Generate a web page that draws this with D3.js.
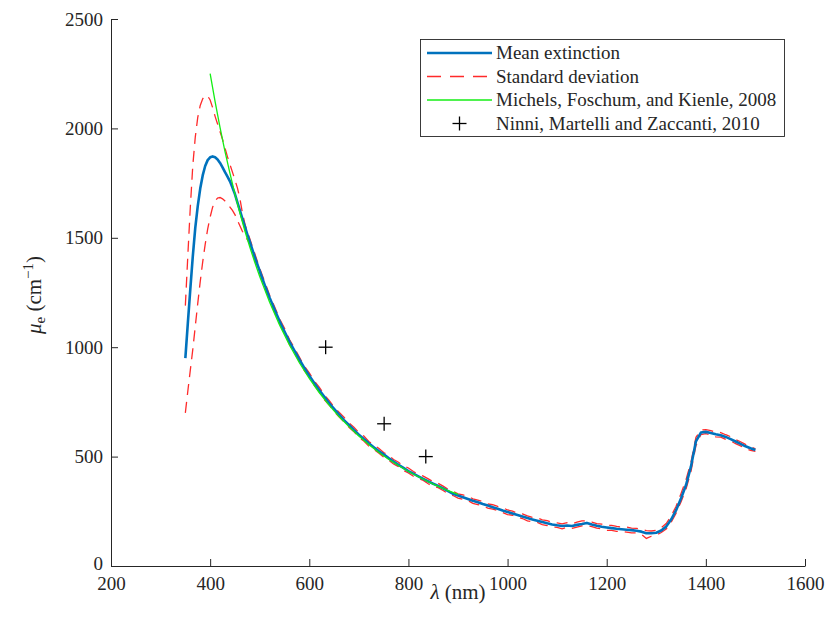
<!DOCTYPE html>
<html>
<head>
<meta charset="utf-8">
<script src="https://cdn.jsdelivr.net/npm/d3@7"></script>
<style>
  html, body { margin: 0; padding: 0; background: #ffffff; }
  svg { display: block; }
  text { font-family: "Liberation Serif", "Times New Roman", serif; fill: #262626; }
</style>
</head>
<body>
<svg id="chart" width="828" height="634"></svg>
<script>
// ---------------- DATA ----------------
const wavelengths = [
  350,355,360,365,370,375,380,385,390,395,
  400,405,410,415,420,425,430,435,440,445,
  450,455,460,465,470,475,
  480,490,500,510,520,530,540,550,560,570,
  580,590,600,610,620,630,640,650,660,670,
  680,690,700,710,720,730,740,750,760,770,
  780,790,800,810,820,830,840,850,860,870,
  880,890,900,910,920,930,940,950,960,970,
  980,990,1000,1010,1020,1030,1040,1050,1060,1070,
  1080,1090,1100,1110,1120,1130,1140,1150,1160,1170,
  1180,1190,1200,1210,1220,1230,1240,1250,1260,1270,
  1280,1290,1300,1310,1320,1330,1340,1350,1360,1370,
  1380,1390,1400,1410,1420,1430,1440,1450,1460,1470,
  1480,1490,1500
];
const meanExtinction = [
  950,1110,1265,1415,1545,1645,1725,1785,1828,1855,
  1868,1872,1868,1858,1842,1822,1800,1780,1758,1730,
  1700,1662,1625,1588,1552,1516,
  1482,1412,1348,1285,1226,1172,1120,1072,1026,984,
  944,905,870,836,804,774,745,718,692,667,
  645,622,600,580,561,543,525,510,493,477,
  462,448,434,422,410,398,387,376,366,355,
  342,330,322,314,306,298,291,283,276,269,
  262,254,247,240,233,226,219,213,207,201,
  195,190,186,183,185,183,188,192,197,190,
  184,179,176,173,170,168,166,164,161,157,
  150,150,152,162,180,212,255,310,370,455,
  570,610,613,608,602,598,590,580,569,558,
  547,538,530
];
const stdUpper = [
  1190,1420,1640,1830,1960,2050,2105,2135,2150,2148,
  2130,2095,2055,2020,1985,1950,1910,1870,1835,1800,
  1765,1728,1680,1615,1565,1527,
  1496,1428,1360,1300,1237,1185,1130,1086,1035,996,
  955,913,883,846,818,783,757,726,703,680,
  654,634,610,594,569,554,538,519,505,487,
  474,457,448,432,418,411,398,385,378,365,
  351,342,330,325,319,307,301,295,284,280,
  272,267,256,251,241,238,229,222,220,211,
  207,199,197,193,198,192,200,206,207,201,
  194,191,185,186,181,178,178,173,172,167,
  162,160,163,175,194,228,273,332,395,475,
  588,622,623,619,611,610,600,591,578,568,
  556,546,536
];
const stdLower = [
  700,800,895,990,1095,1200,1300,1390,1470,1540,
  1595,1640,1668,1682,1684,1678,1668,1655,1640,1625,
  1606,1580,1555,1530,1510,1492,
  1472,1399,1340,1271,1217,1160,1110,1064,1013,975,
  935,893,863,825,796,761,736,706,682,659,
  634,614,588,571,548,533,517,498,484,466,
  454,437,425,410,400,391,376,363,358,345,
  331,322,310,305,299,286,281,275,265,260,
  253,244,235,232,222,217,206,203,199,189,
  185,178,177,170,177,172,178,183,185,180,
  173,170,163,163,158,159,155,151,151,145,
  126,136,142,153,169,200,241,294,352,433,
  550,601,605,598,590,589,579,572,559,549,
  537,529,524
];
const michelsWavelengths = [400,410,420,430,440,450,460,470,480,490,500,520,540,560,580,600,620,640,660,680,700,720,740,760,780,800,820,840,860,880,900];
const michelsValues      = [2250,2122,2003,1894,1794,1700,1614,1532,1458,1388,1323,1205,1102,1010,929,857,793,735,683,637,594,555,520,488,459,432,408,385,364,344,327];
const ninniWavelengths = [633, 751, 835];
const ninniValues      = [1000, 650, 500];
const xTicks = [200,400,600,800,1000,1200,1400,1600];
const yTicks = [0,500,1000,1500,2000,2500];
const legendLabels = ["Mean extinction","Standard deviation","Michels, Foschum, and Kienle, 2008","Ninni, Martelli and Zaccanti, 2010"];

// ---------------- CHART ----------------
const svg = d3.select("#chart");
const x = d3.scaleLinear().domain([200,1600]).range([111,805]);
const y = d3.scaleLinear().domain([0,2500]).range([566,19]);
const axisColor = "#262626";

const xAxis = svg.append("g").attr("transform","translate(0,566)")
  .call(d3.axisBottom(x).tickValues(xTicks).tickSize(-7).tickSizeOuter(0).tickPadding(11).tickFormat(d3.format("d")));
const yAxis = svg.append("g").attr("transform","translate(111,0)")
  .call(d3.axisLeft(y).tickValues(yTicks).tickSize(-7).tickSizeOuter(0).tickPadding(8).tickFormat(d3.format("d")));
[xAxis, yAxis].forEach(g => {
  g.select(".domain").attr("stroke", axisColor).attr("stroke-width", 1);
  g.selectAll(".tick line").attr("stroke", axisColor).attr("stroke-width", 1);
  g.selectAll(".tick text").attr("font-size", 19).attr("font-family", "Liberation Serif, Times New Roman, serif").attr("fill", axisColor);
});
// the y tick label "0" sits slightly higher so it does not collide with "200"
yAxis.selectAll(".tick").filter(d => d === 0).select("text").attr("dy", "0.2em");

const line = d3.line().x(d => x(d[0])).y(d => y(d[1]));
const upperPts = wavelengths.map((w,i) => [w, stdUpper[i]]);
const lowerPts = wavelengths.map((w,i) => [w, stdLower[i]]);
const meanPts  = wavelengths.map((w,i) => [w, meanExtinction[i]]);
const michPts  = michelsWavelengths.map((w,i) => [w, michelsValues[i]]);

const red = "#ff2a2a", blue = "#0072BD", green = "#14ee14";
[upperPts, lowerPts].forEach(p => {
  svg.append("path").datum(p).attr("d", line).attr("fill","none")
    .attr("stroke", red).attr("stroke-width", 1.3).attr("stroke-dasharray","11,7");
});
svg.append("path").datum(meanPts).attr("d", line).attr("fill","none")
  .attr("stroke", blue).attr("stroke-width", 2.6).attr("stroke-linejoin","round");
svg.append("path").datum(michPts).attr("d", line).attr("fill","none")
  .attr("stroke", green).attr("stroke-width", 1.3);

const plusHalf = 7;
ninniWavelengths.forEach((w,i) => {
  const cx = x(w), cy = y(ninniValues[i]);
  svg.append("line").attr("x1",cx-plusHalf).attr("x2",cx+plusHalf).attr("y1",cy).attr("y2",cy).attr("stroke","#000").attr("stroke-width",1.3);
  svg.append("line").attr("x1",cx).attr("x2",cx).attr("y1",cy-plusHalf).attr("y2",cy+plusHalf).attr("stroke","#000").attr("stroke-width",1.3);
});

// Axis labels
const xl = svg.append("text").attr("x", 458).attr("y", 599).attr("text-anchor","middle").attr("font-size", 21);
xl.append("tspan").attr("font-style","italic").text("λ");
xl.append("tspan").text(" (nm)");

const yl = svg.append("text").attr("transform","translate(41,295) rotate(-90)").attr("text-anchor","middle").attr("font-size", 21);
yl.append("tspan").attr("font-style","italic").text("μ");
yl.append("tspan").attr("font-size", 15).attr("dy", 4).text("e");
yl.append("tspan").attr("dy", -4).text(" (cm");
yl.append("tspan").attr("font-size", 15).attr("dy", -8).text("−1");
yl.append("tspan").attr("dy", 8).text(")");

// Legend
const lg = svg.append("g");
lg.append("rect").attr("x", 420.5).attr("y", 39.5).attr("width", 364).attr("height", 97)
  .attr("fill","#fff").attr("stroke", axisColor).attr("stroke-width", 0.9);
const rowY = [53, 76.5, 100, 123.5];
const sx1 = 427, sx2 = 492;
lg.append("line").attr("x1",sx1).attr("x2",sx2).attr("y1",rowY[0]).attr("y2",rowY[0]).attr("stroke",blue).attr("stroke-width",2.6);
lg.append("line").attr("x1",sx1).attr("x2",sx2).attr("y1",rowY[1]).attr("y2",rowY[1]).attr("stroke",red).attr("stroke-width",1.3).attr("stroke-dasharray","14,9");
lg.append("line").attr("x1",sx1).attr("x2",sx2).attr("y1",rowY[2]).attr("y2",rowY[2]).attr("stroke",green).attr("stroke-width",1.3);
const pcx = 459.5, pcy = rowY[3];
lg.append("line").attr("x1",pcx-plusHalf).attr("x2",pcx+plusHalf).attr("y1",pcy).attr("y2",pcy).attr("stroke","#000").attr("stroke-width",1.3);
lg.append("line").attr("x1",pcx).attr("x2",pcx).attr("y1",pcy-plusHalf).attr("y2",pcy+plusHalf).attr("stroke","#000").attr("stroke-width",1.3);
legendLabels.forEach((t,i) => {
  lg.append("text").attr("x", 496).attr("y", rowY[i]).attr("dy","0.33em").attr("font-size", 19).text(t);
});
</script>
</body>
</html>
